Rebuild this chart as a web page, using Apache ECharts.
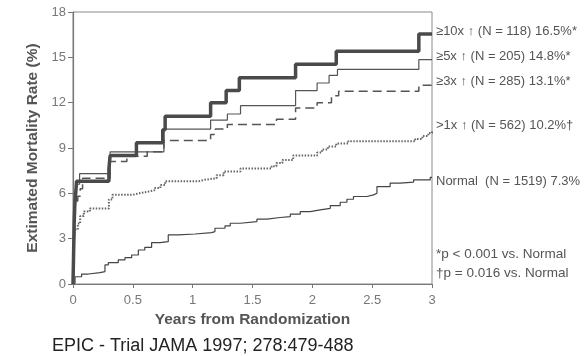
<!DOCTYPE html>
<html>
<head>
<meta charset="utf-8">
<script src="https://cdn.jsdelivr.net/npm/echarts@6/dist/echarts.min.js"></script>
<style>
  html, body { margin: 0; padding: 0; background: #fff; }
  #chart { width: 587px; height: 356px; }
</style>
</head>
<body>
<div id="chart"></div>
<script>
// Kaplan-Meier style curves: value holds from each time until the next one
var xTicks = [0, 0.5, 1, 1.5, 2, 2.5, 3]
var yTicks = [0, 3, 6, 9, 12, 15, 18]

var tenX_t = [0, 0.005, 0.01, 0.015, 0.03, 0.30, 0.31, 0.53, 0.75, 0.77, 1.15, 1.28, 1.39, 1.86, 2.20, 2.89, 3.0]
var tenX_v = [0, 2.0, 4.0, 5.2, 6.8, 7.6, 8.5, 9.35, 10.2, 11.1, 12.0, 12.8, 13.65, 14.55, 15.4, 16.55, 16.55]

var fiveX_t = [0, 0.005, 0.01, 0.02, 0.03, 0.055, 0.31, 0.76, 1.15, 1.29, 1.40, 1.86, 2.04, 2.14, 2.21, 2.89, 3.0]
var fiveX_v = [0, 2.5, 4.5, 6.0, 6.6, 7.3, 8.75, 10.25, 10.85, 11.25, 11.8, 12.8, 13.3, 13.8, 14.2, 14.85, 14.85]

var threeX_t = [0, 0.005, 0.01, 0.02, 0.04, 0.06, 0.08, 0.31, 0.45, 0.62, 0.76, 1.15, 1.19, 1.29, 1.70, 1.86, 2.04, 2.16, 2.22, 2.89, 3.0]
var threeX_v = [0, 2.0, 4.0, 5.5, 5.8, 6.3, 7.0, 8.1, 8.45, 8.75, 9.5, 9.9, 10.25, 10.55, 10.9, 11.65, 12.0, 12.45, 12.75, 13.15, 13.15]

var oneX_t = [0, 0.005, 0.01, 0.02, 0.04, 0.06, 0.09, 0.14, 0.30, 0.33, 0.50, 0.55, 0.62, 0.68, 0.73, 0.77, 1.05, 1.10, 1.20, 1.26, 1.40, 1.66, 1.70, 1.75, 1.84, 2.04, 2.08, 2.13, 2.20, 2.30, 2.86, 2.92, 2.97, 3.0]
var oneX_v = [0, 2.0, 3.0, 3.6, 4.0, 4.5, 4.8, 5.0, 5.6, 5.9, 6.0, 6.1, 6.2, 6.35, 6.55, 6.8, 6.9, 7.0, 7.2, 7.45, 7.65, 7.8, 8.0, 8.2, 8.5, 8.7, 8.9, 9.1, 9.3, 9.45, 9.6, 9.8, 10.0, 10.1]

var normal_t = [0, 0.004, 0.017, 0.072, 0.128, 0.226, 0.267, 0.295, 0.378, 0.434, 0.49, 0.546, 0.60, 0.657, 0.727, 0.796, 0.88, 1.02, 1.158, 1.186, 1.27, 1.314, 1.398, 1.537, 1.621, 1.732, 1.816, 1.899, 1.983, 2.066, 2.15, 2.233, 2.289, 2.344, 2.456, 2.511, 2.540, 2.650, 2.734, 2.846, 2.985, 3.0]
var normal_v = [0, 0.05, 0.48, 0.66, 0.75, 0.82, 1.26, 1.41, 1.59, 1.74, 1.92, 2.25, 2.43, 2.74, 2.80, 3.25, 3.31, 3.40, 3.47, 3.69, 3.84, 4.02, 4.13, 4.29, 4.4, 4.46, 4.62, 4.79, 4.9, 5.01, 5.19, 5.41, 5.61, 5.79, 5.9, 6.01, 6.45, 6.67, 6.74, 6.89, 7.05, 7.05]

var groupNames = [
  '≥10x ↑ (N = 118) 16.5%*',
  '≥5x ↑ (N = 205) 14.8%*',
  '≥3x ↑ (N = 285) 13.1%*',
  '>1x ↑ (N = 562) 10.2%†',
  'Normal  (N = 1519) 7.3%'
]

function pairs (t, v) {
  return t.map(function (x, i) { return [x, v[i]] })
}

var font = '"Liberation Sans", Arial, sans-serif'

function curve (name, t, v, lineStyle, labelOffsetY) {
  return {
    name: name,
    type: 'line',
    step: 'end',
    showSymbol: false,
    symbol: 'none',
    data: pairs(t, v),
    lineStyle: lineStyle,
    endLabel: {
      show: true,
      formatter: name,
      distance: 4,
      offset: [0, labelOffsetY],
      color: '#555',
      fontSize: 13,
      fontFamily: font
    }
  }
}

var chart = echarts.init(document.getElementById('chart'))
chart.setOption({
  animation: false,
  backgroundColor: '#fff',
  grid: {
    left: 73, right: 155, top: 12, bottom: 72,
    show: true, borderColor: '#8a8a8a', borderWidth: 1
  },
  xAxis: {
    type: 'value',
    min: xTicks[0], max: xTicks[xTicks.length - 1], interval: 0.5,
    name: 'Years from Randomization',
    nameLocation: 'middle',
    nameGap: 28,
    nameTextStyle: { color: '#555', fontSize: 15.5, fontWeight: 'bold', fontFamily: font },
    axisLine: { lineStyle: { color: '#777', width: 1.2 } },
    axisTick: { show: true, length: 4, lineStyle: { color: '#777' } },
    axisLabel: { color: '#777', fontSize: 13, fontFamily: font, margin: 10 },
    splitLine: { show: false }
  },
  yAxis: {
    type: 'value',
    min: yTicks[0], max: yTicks[yTicks.length - 1], interval: 3,
    name: 'Extimated Mortality Rate (%)',
    nameLocation: 'middle',
    nameGap: 32,
    nameTextStyle: { color: '#555', fontSize: 15.5, fontWeight: 'bold', fontFamily: font },
    axisLine: { show: true, lineStyle: { color: '#777', width: 1.2 } },
    axisTick: { show: true, length: 5, lineStyle: { color: '#777' } },
    axisLabel: { color: '#777', fontSize: 13, fontFamily: font, margin: 7 },
    splitLine: { show: false }
  },
  series: [
    curve(groupNames[4], normal_t, normal_v, { color: '#444', width: 1.2 }, 4),
    curve(groupNames[3], oneX_t, oneX_v, { color: '#666', width: 2, type: [1.5, 1.5] }, -6),
    curve(groupNames[2], threeX_t, threeX_v, { color: '#555', width: 1.5, type: [9, 5] }, -4),
    curve(groupNames[1], fiveX_t, fiveX_v, { color: '#555', width: 1.2 }, -3),
    curve(groupNames[0], tenX_t, tenX_v, { color: '#4a4a4a', width: 3.5 }, -2)
  ],
  graphic: [
    { type: 'text', left: 436, top: 247, style: { text: '*p < 0.001 vs. Normal', fill: '#555', font: '13.5px ' + font } },
    { type: 'text', left: 436, top: 266, style: { text: '†p = 0.016 vs. Normal', fill: '#555', font: '13.5px ' + font } },
    { type: 'text', left: 52, top: 337, style: { text: 'EPIC - Trial JAMA 1997; 278:479-488', fill: '#222', font: '18px ' + font } }
  ]
})
</script>
</body>
</html>
